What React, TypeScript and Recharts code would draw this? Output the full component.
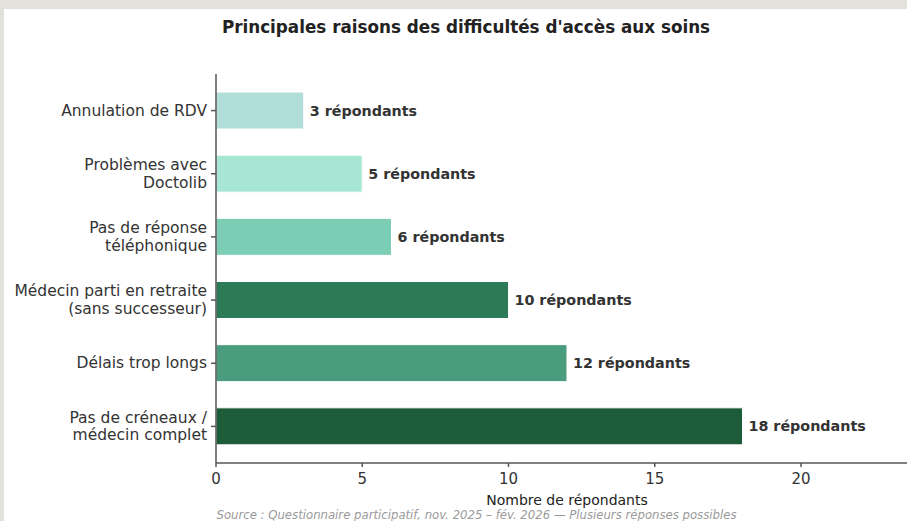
import { BarChart, Bar, XAxis, YAxis, Cell, LabelList, Label } from 'recharts';

// Données
const raisons = [
  'Annulation de RDV',
  'Problèmes avec\nDoctolib',
  'Pas de réponse\ntéléphonique',
  'Médecin parti en retraite\n(sans successeur)',
  'Délais trop longs',
  'Pas de créneaux /\nmédecin complet',
];
const repondants = [3, 5, 6, 10, 12, 18];
const couleurs = ['#b2ded9', '#a7e6d3', '#7bceb4', '#2c7a56', '#4a9c7e', '#1d5c38'];
const ticksX = [0, 5, 10, 15, 20];

const data = raisons.map((raison, i) => ({ raison, valeur: repondants[i] }));

const FONT = '"DejaVu Sans", sans-serif';

// tick de l'axe Y sur plusieurs lignes
const RaisonTick = (props: any) => {
  const { x, y, payload } = props;
  const lignes = String(payload.value).split('\n');
  const lh = 17.5;
  const y0 = y - ((lignes.length - 1) * lh) / 2;
  return (
    <text x={x - 2} y={y0} textAnchor="end" fontSize={15.5} fill="#333" fontFamily={FONT} dominantBaseline="central">
      {lignes.map((l, i) => (
        <tspan key={i} x={x - 2} y={y0 + i * lh}>
          {l}
        </tspan>
      ))}
    </text>
  );
};

export default function App() {
  return (
    <div
      style={{
        position: 'absolute',
        left: 0,
        top: 0,
        width: 907,
        height: 521,
        background: '#e2e2da',
        overflow: 'hidden',
      }}
    >
      <div style={{ position: 'absolute', left: 4, top: 9, width: 903, height: 512, background: '#fff' }} />
      <div
        style={{
          position: 'absolute',
          left: 0,
          top: 17,
          width: 932,
          textAlign: 'center',
          fontFamily: FONT,
          fontWeight: 'bold',
          fontSize: 16.8,
          color: '#222',
        }}
      >
        Principales raisons des difficultés d'accès aux soins
      </div>
      <div style={{ position: 'absolute', left: 0, top: 0 }}>
        <BarChart
          width={940}
          height={521}
          data={data}
          layout="vertical"
          margin={{ top: 74, right: 22, bottom: 0, left: 0 }}
        >
          <XAxis
            type="number"
            domain={[0, 24]}
            ticks={ticksX}
            allowDataOverflow
            height={58}
            stroke="#555"
            strokeWidth={1.5}
            tickSize={4}
            tick={{ fontSize: 15, fill: '#333', fontFamily: FONT, dy: 4 }}
          >
            <Label
              value="Nombre de répondants"
              position="insideBottom"
              offset={16}
              style={{ fontSize: 14, fill: '#222', fontFamily: FONT }}
            />
          </XAxis>
          <YAxis
            type="category"
            dataKey="raison"
            width={216}
            stroke="#555"
            strokeWidth={1.5}
            tickSize={5}
            padding={{ top: 5, bottom: 5 }}
            tick={<RaisonTick />}
          />
          <Bar dataKey="valeur" barSize={37} isAnimationActive={false} stroke="#fff" strokeWidth={1}>
            {data.map((_, i) => (
              <Cell key={i} fill={couleurs[i]} />
            ))}
            <LabelList
              dataKey="valeur"
              position="right"
              offset={6}
              formatter={(v: any) => `${v} répondants`}
              style={{ fontSize: 14.3, fontWeight: 'bold', fill: '#333', fontFamily: FONT }}
            />
          </Bar>
        </BarChart>
      </div>
      <div
        style={{
          position: 'absolute',
          left: 216,
          top: 508,
          width: 521,
          textAlign: 'center',
          fontFamily: FONT,
          fontStyle: 'italic',
          fontSize: 11.7,
          color: '#9a9a9a',
          whiteSpace: 'nowrap',
        }}
      >
        Source : Questionnaire participatif, nov. 2025 – fév. 2026 — Plusieurs réponses possibles
      </div>
    </div>
  );
}
